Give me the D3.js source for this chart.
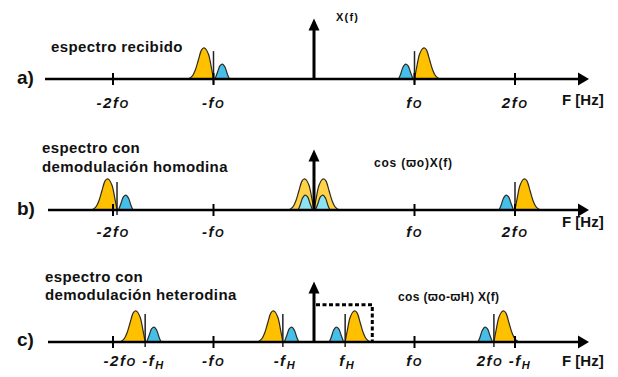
<!DOCTYPE html>
<html>
<head>
<meta charset="utf-8">
<script src="https://cdn.jsdelivr.net/npm/d3@7"></script>
<style>
body { margin: 0; background: #fff; }
text { font-family: "Liberation Sans", Arial, sans-serif; font-weight: bold; fill: #111; }
</style>
</head>
<body>
<script>
var panelLabels = ['a)', 'b)', 'c)']
var titleLines = [['espectro recibido'], ['espectro con', 'demodulación homodina'], ['espectro con', 'demodulación heterodina']]
var productLabels = ['X(f)', 'cos (ϖo)X(f)', 'cos (ϖo-ϖH) X(f)']

var tickValues = [-2, -1, 1, 2]
// '|O' = small o after f, '^H' = subscript H
var tickLabelsA = [[-2, '-2f|O'], [-1, '-f|O'], [1, 'f|O'], [2, '2f|O']]
var tickLabelsB = [[-2, '-2f|O'], [-1, '-f|O'], [1, 'f|O'], [2, '2f|O']]
var tickLabelsC = [[-1.79, '-2f|O -f^H'], [-1, '-f|O'], [-0.29, '-f^H'], [0.33, 'f^H'], [1, 'f|O'], [1.89, '2f|O -f^H']]

// spectrum copies: [centre in f0 units, side (-1 = upper band to the left), faded]
var copiesA = [[-1, -1, 0], [1, 1, 0]]
var copiesB = [[-1.96, -1, 0], [0, -1, 1], [0, 1, 1], [2, 1, 0]]
var copiesC = [[-1.68, -1, 0], [-0.31, -1, 0], [0.31, 1, 0], [1.79, 1, 0]]

// band shapes, offset from carrier (f0 units) and height (relative)
var upperOffsets = [0, 0.02, 0.05, 0.08, 0.10, 0.12, 0.15, 0.18, 0.21, 0.25]
var upperLevels = [0, 0.35, 0.8, 0.98, 1, 0.93, 0.62, 0.3, 0.1, 0]
var lowerOffsets = [0.015, 0.04, 0.065, 0.09, 0.115, 0.14, 0.16]
var lowerLevels = [0, 0.22, 0.43, 0.48, 0.38, 0.14, 0]

var carrierLevel = 0.9
var impulseLevel = 1.95
var filterCut = 0.58
var filterLevel = 1.2

var panels = [
  {axisY: 79, start: 45, titleX: 51, titleY: [52], labelY: 84, tickDy: 29, unitDy: 26, prodX: 336, prodY: 21, prodSize: 11, prodLen: 22, ticks: tickLabelsA, copies: copiesA},
  {axisY: 210, start: 48, titleX: 42, titleY: [153, 172], labelY: 215, tickDy: 27, unitDy: 17, prodX: 374, prodY: 167, prodSize: 12, prodLen: 78, ticks: tickLabelsB, copies: copiesB},
  {axisY: 342, start: 48, titleX: 45, titleY: [282, 300], labelY: 346, tickDy: 24, unitDy: 24, prodX: 398, prodY: 301, prodSize: 12, prodLen: 101, ticks: tickLabelsC, copies: copiesC, filter: true}
]

var width = 618
var height = 377

var x = d3.scaleLinear().domain([-2, 2]).range([113, 515])
var line = d3.line().curve(d3.curveCatmullRom)

var svg = d3.select('body').append('svg').attr('width', width).attr('height', height)

function addLabel(g, str, px, py) {
  var t = g.append('text').attr('x', px).attr('y', py)
    .attr('text-anchor', 'middle').attr('font-style', 'italic')
    .attr('font-size', 15).attr('letter-spacing', 1.5)
  var parts = str.match(/\|[A-Z]|\^[A-Z]|[^|^]+/g)
  parts.forEach(function (s) {
    if (s[0] === '|') t.append('tspan').attr('font-size', 11).text(s[1])
    else if (s[0] === '^') {
      t.append('tspan').attr('font-size', 11).attr('dy', 3).text(s[1])
      t.append('tspan').attr('dy', -3).text('')
    } else t.append('tspan').text(s)
  })
}

panels.forEach(function (p, i) {
  var y = d3.scaleLinear().domain([0, 1]).range([p.axisY, p.axisY - 31])
  var g = svg.append('g')

  // upper bands (orange) first, then lower bands (blue)
  p.copies.forEach(function (c) {
    var pts = upperOffsets.map(function (o, k) { return [x(c[0] + c[1] * o), y(upperLevels[k])] })
    g.append('path').attr('d', line(pts))
      .attr('fill', '#FFC000').attr('fill-opacity', c[2] ? 0.72 : 1)
      .attr('stroke', '#2e2a20').attr('stroke-width', 1.2)
  })
  p.copies.forEach(function (c) {
    var pts = lowerOffsets.map(function (o, k) { return [x(c[0] - c[1] * o), y(lowerLevels[k])] })
    g.append('path').attr('d', line(pts))
      .attr('fill', c[2] ? '#8BE3F4' : '#45BFEA')
      .attr('stroke', '#2e2a20').attr('stroke-width', 1.2)
  })
  // carrier lines
  p.copies.filter(function (c) { return !c[2] }).forEach(function (c) {
    g.append('line').attr('x1', x(c[0])).attr('x2', x(c[0]))
      .attr('y1', y(0) + 5).attr('y2', y(carrierLevel))
      .attr('stroke', '#222').attr('stroke-width', 1.5)
  })

  // frequency axis
  g.append('line').attr('x1', p.start).attr('x2', 580).attr('y1', p.axisY).attr('y2', p.axisY)
    .attr('stroke', '#000').attr('stroke-width', 2.5)
  g.append('path').attr('d', 'M578,' + (p.axisY - 6.5) + 'L589,' + p.axisY + 'L578,' + (p.axisY + 6.5) + 'Z')
    .attr('fill', '#000')
  g.selectAll('.tick').data(tickValues).enter().append('line')
    .attr('x1', function (d) { return x(d) }).attr('x2', function (d) { return x(d) })
    .attr('y1', p.axisY - 6).attr('y2', p.axisY + 6)
    .attr('stroke', '#000').attr('stroke-width', 2)

  // impulse at f = 0
  g.append('line').attr('x1', x(0)).attr('x2', x(0)).attr('y1', p.axisY).attr('y2', y(impulseLevel) + 10)
    .attr('stroke', '#000').attr('stroke-width', 3)
  g.append('path').attr('d', 'M' + (x(0) - 5.5) + ',' + (y(impulseLevel) + 12) + 'L' + x(0) + ',' + y(impulseLevel) + 'L' + (x(0) + 5.5) + ',' + (y(impulseLevel) + 12) + 'Z')
    .attr('fill', '#000')

  if (p.filter) {
    g.append('path').attr('d', 'M' + (x(0) + 2) + ',' + y(filterLevel) + 'H' + x(filterCut) + 'V' + y(0))
      .attr('fill', 'none').attr('stroke', '#000').attr('stroke-width', 3).attr('stroke-dasharray', '4,2.5')
  }

  // texts
  g.append('text').attr('x', 17).attr('y', p.labelY).attr('font-size', 19).text(panelLabels[i])
  titleLines[i].forEach(function (s, k) {
    g.append('text').attr('x', p.titleX).attr('y', p.titleY[k]).attr('font-size', 15)
      .attr('letter-spacing', 0.4).text(s)
  })
  g.append('text').attr('x', p.prodX).attr('y', p.prodY).attr('font-size', p.prodSize)
    .attr('textLength', p.prodLen).attr('lengthAdjust', 'spacing').text(productLabels[i])
  p.ticks.forEach(function (t) { addLabel(g, t[1], x(t[0]), p.axisY + p.tickDy) })
  g.append('text').attr('x', 562).attr('y', p.axisY + p.unitDy).attr('font-size', 15).text('F [Hz]')
})
</script>
</body>
</html>
